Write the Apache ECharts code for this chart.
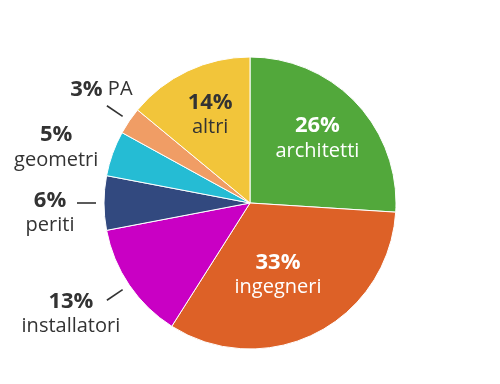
<!DOCTYPE html>
<html>
<head>
<meta charset="utf-8">
<script src="https://cdn.jsdelivr.net/npm/echarts@6/dist/echarts.min.js"></script>
<style>
html,body{margin:0;padding:0;background:#fff;}
#c{width:500px;height:384px;}
</style>
</head>
<body>
<div id="c"></div>
<script>
// ---- data ----
const categories = ['architetti', 'ingegneri', 'installatori', 'periti', 'geometri', 'PA', 'altri'];
const values = [26, 33, 13, 6, 5, 3, 14];

// ---- styles ----
const colors = ['#52a83b', '#dd6127', '#c900c4', '#32497f', '#25bcd4', '#f09d65', '#f2c53a'];
const insideLabel = [true, true, false, false, false, false, true];
const insideTextColor = ['#ffffff', '#ffffff', null, null, null, null, '#333333'];
const singleLine = [false, false, false, false, false, true, false];
const showLeader = [false, false, true, true, false, true, false];
// label nudges (px) relative to the library's own label anchor
const labelNudge = [[12, -12], [-6.5, 5], [-36, 14], [-27, 10], [-31, 3], [-5.5, -16], [-7.5, -18.5]];

const chart = echarts.init(document.getElementById('c'), null, { renderer: 'canvas' });

const FONT = '"Open Sans", "Noto Sans", sans-serif';
const rich = {
  p: { fontFamily: FONT, fontWeight: 'bold', fontSize: 22, lineHeight: 25 },
  n: { fontFamily: FONT, fontSize: 20, lineHeight: 25 }
};

function fmt(params) {
  const i = params.dataIndex;
  if (singleLine[i]) return '{p|' + params.value + '%}{n| ' + params.name + '}';
  return '{p|' + params.value + '%}\n{n|' + params.name + '}';
}

const mainData = categories.map((name, i) => ({
  name: name,
  value: values[i],
  itemStyle: { color: colors[i] },
  label: insideLabel[i]
    ? { show: true, position: 'inside', color: insideTextColor[i] }
    : { show: false }
}));

const ringData = categories.map((name, i) => ({
  name: name,
  value: values[i],
  label: { show: !insideLabel[i] },
  labelLine: {
    show: !insideLabel[i],
    lineStyle: { opacity: showLeader[i] ? 1 : 0 }
  }
}));

chart.setOption({
  backgroundColor: '#ffffff',
  animation: false,
  series: [
    {
      type: 'pie',
      center: [250, 203],
      radius: [0, 146],
      startAngle: 90,
      clockwise: true,
      avoidLabelOverlap: false,
      emphasis: { disabled: true },
      itemStyle: { borderColor: '#ffffff', borderWidth: 1 },
      label: { formatter: fmt, rich: rich, fontFamily: FONT },
      labelLine: { show: false },
      labelLayout: function (p) {
        const off = labelNudge[p.dataIndex];
        const r = p.labelRect;
        if (!off || !r) return {};
        return {
          x: r.x + r.width / 2 + off[0],
          y: r.y + r.height / 2 + off[1],
          align: 'center',
          verticalAlign: 'middle'
        };
      },
      data: mainData
    },
    {
      type: 'pie',
      center: [250, 203],
      radius: [0, 154],
      startAngle: 90,
      clockwise: true,
      silent: true,
      z: 1,
      avoidLabelOverlap: false,
      emphasis: { disabled: true },
      itemStyle: { color: 'rgba(0,0,0,0)', borderWidth: 0 },
      label: { position: 'outside', formatter: fmt, rich: rich, color: '#333333', fontFamily: FONT },
      labelLine: { length: 19, length2: 0, smooth: false, lineStyle: { color: '#333333', width: 1.6 } },
      labelLayout: function (p) {
        const off = labelNudge[p.dataIndex];
        const pts = p.labelLinePoints;
        if (!off || !pts) return {};
        const end = pts[pts.length - 1];
        return {
          x: end[0] + off[0],
          y: end[1] + off[1],
          align: 'center',
          verticalAlign: 'middle',
          labelLinePoints: pts
        };
      },
      data: ringData
    }
  ]
});
</script>
</body>
</html>
